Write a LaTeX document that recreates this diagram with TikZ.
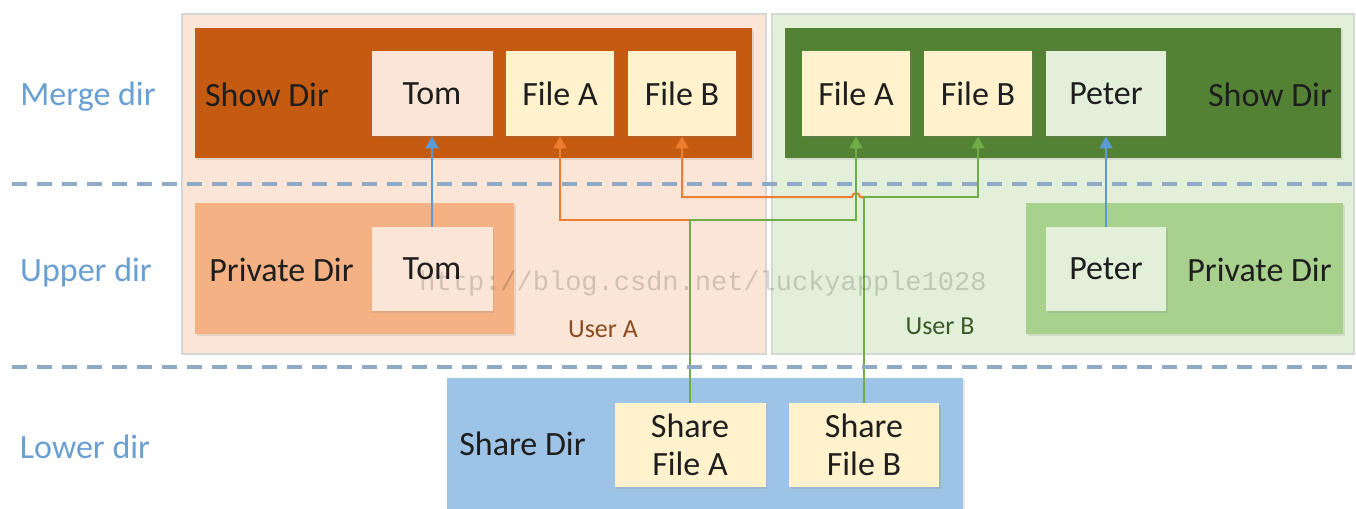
\documentclass[tikz,border=0pt]{standalone}
\usepackage{fontspec}
\setmainfont{Carlito}
\newfontfamily\wmfont{Liberation Mono}
\usetikzlibrary{arrows.meta,shadows}

\definecolor{userAfill}{HTML}{FBE5D6}
\definecolor{userBfill}{HTML}{E2F0D9}
\definecolor{showAfill}{HTML}{C55A11}
\definecolor{showBfill}{HTML}{548235}
\definecolor{privAfill}{HTML}{F4B183}
\definecolor{privBfill}{HTML}{A9D18E}
\definecolor{sharefill}{HTML}{9DC3E6}
\definecolor{filefill}{HTML}{FFF2CC}
\definecolor{frameline}{HTML}{D6D6D6}
\definecolor{tierblue}{HTML}{6A9FD2}
\definecolor{dashcol}{HTML}{8FAAC6}
\definecolor{linkorange}{HTML}{ED7D31}
\definecolor{linkgreen}{HTML}{70AD47}
\definecolor{linkblue}{HTML}{5B9BD5}
\definecolor{userAtext}{HTML}{8A4B1E}
\definecolor{userBtext}{HTML}{3B5A26}
\definecolor{inktext}{HTML}{1E1E1E}

\tikzset{
  userpanel/.style={rectangle, draw=frameline, line width=0.6pt, inner sep=0pt},
  dirbox/.style={rectangle, inner sep=0pt,
    drop shadow={opacity=0.18, shadow xshift=0.8pt, shadow yshift=-0.8pt}},
  itembox/.style={rectangle, inner sep=0pt, align=center, text=inktext,
    font=\fontsize{17}{20}\selectfont,
    drop shadow={opacity=0.18, shadow xshift=0.8pt, shadow yshift=-0.8pt}},
  dirlabel/.style={text=inktext, font=\fontsize{17}{20}\selectfont, inner sep=0pt},
  tierlabel/.style={text=tierblue, font=\fontsize{17}{20}\selectfont, inner sep=0pt},
  userlabel/.style={font=\fontsize{13}{15}\selectfont, inner sep=0pt},
  tierline/.style={draw=dashcol, line width=1.7pt, dash pattern=on 7.5pt off 5pt},
  link/.style={line width=1pt, -{Triangle[length=6pt, width=6.5pt]}},
  orangelink/.style={link, draw=linkorange},
  greenlink/.style={link, draw=linkgreen},
  bluelink/.style={link, draw=linkblue},
}

\begin{document}
\begin{tikzpicture}[x=0.5pt, y=-0.5pt]
\useasboundingbox (0,0) rectangle (1356,509);
\fill[white] (0,0) rectangle (1356,509);

% user panels
\node[userpanel, fill=userAfill, minimum width=292pt, minimum height=170pt] (userA) at (474,184) {};
\node[userpanel, fill=userBfill, minimum width=291pt, minimum height=170pt] (userB) at (1063,184) {};

% merged (show) directories
\node[dirbox, fill=showAfill, minimum width=278.5pt, minimum height=65pt] (showA) at (473.5,93) {};
\node[dirbox, fill=showBfill, minimum width=278pt, minimum height=65pt] (showB) at (1063,93) {};
\node[dirlabel] (showAlbl) at (267,95) {Show Dir};
\node[dirlabel] (showBlbl) at (1270,95) {Show Dir};

\node[itembox, fill=userAfill, minimum width=60.5pt, minimum height=42.5pt] (tomM) at (432,93.5) {Tom};
\node[itembox, fill=filefill, minimum width=54pt, minimum height=42.5pt] (fileAL) at (560,93.5) {File A};
\node[itembox, fill=filefill, minimum width=54pt, minimum height=42.5pt] (fileBL) at (682,93.5) {File B};
\node[itembox, fill=filefill, minimum width=54pt, minimum height=42.5pt] (fileAR) at (856,93.5) {File A};
\node[itembox, fill=filefill, minimum width=54pt, minimum height=42.5pt] (fileBR) at (978,93.5) {File B};
\node[itembox, fill=userBfill, minimum width=60pt, minimum height=42.5pt] (peterM) at (1106,93.5) {Peter};

% private (upper) directories
\node[dirbox, fill=privAfill, minimum width=159.5pt, minimum height=65.5pt] (privA) at (354.5,268.5) {};
\node[dirbox, fill=privBfill, minimum width=158.5pt, minimum height=65.5pt] (privB) at (1184.5,268.5) {};
\node[dirlabel] (privAlbl) at (281.5,270) {Private Dir};
\node[dirlabel] (privBlbl) at (1259.5,270) {Private Dir};
\node[itembox, fill=userAfill, minimum width=60.5pt, minimum height=42pt] (tomU) at (432,269) {Tom};
\node[itembox, fill=userBfill, minimum width=60pt, minimum height=42pt] (peterU) at (1106,269) {Peter};

\node[userlabel, text=userAtext] (userAlbl) at (603,329) {User A};
\node[userlabel, text=userBtext] (userBlbl) at (940,326) {User B};

% shared (lower) directory
\node[dirbox, fill=sharefill, minimum width=258pt, minimum height=66pt] (shareD) at (705,444) {};
\node[dirlabel] (shareDlbl) at (522.5,444) {Share Dir};
\node[itembox, fill=filefill, minimum width=75.5pt, minimum height=42pt] (shareA) at (690,445) {Share\\[-1pt]File A};
\node[itembox, fill=filefill, minimum width=75pt, minimum height=42pt] (shareB) at (864,445) {Share\\[-1pt]File B};

% tier names
\node[tierlabel] (merge) at (88,97) {Merge dir};
\node[tierlabel] (upper) at (86,272) {Upper dir};
\node[tierlabel] (lower) at (85,447) {Lower dir};

% links
\coordinate (jA) at (690,220);
\coordinate (jB) at (864,197);
\coordinate (hop) at (fileAR.south |- jB);

\draw[orangelink] (jA) -| (fileAL.south);
\draw[orangelink] (jB) -- ([xshift=2pt]hop) arc[start angle=0, end angle=180, radius=2pt] -| (fileBL.south);
\draw[greenlink] (shareA.north) -- (jA) -| (fileAR.south);
\draw[greenlink] (shareB.north) -- (jB) -| (fileBR.south);
\draw[bluelink] (tomU.north) -- (tomM.south);
\draw[bluelink] (peterU.north) -- (peterM.south);

% tier separators
\coordinate (sepL1) at (12,184);
\coordinate (sepR1) at (1356,184);
\coordinate (sepL2) at (12,367);
\coordinate (sepR2) at (1356,367);
\draw[tierline] (sepL1) -- (sepR1);
\draw[tierline] (sepL2) -- (sepR2);

% watermark
\node[text=black, opacity=0.16, inner sep=0pt, font=\wmfont\fontsize{13.5}{15}\selectfont] (wm) at (703,284) {http://blog.csdn.net/luckyapple1028};
\end{tikzpicture}
\end{document}
